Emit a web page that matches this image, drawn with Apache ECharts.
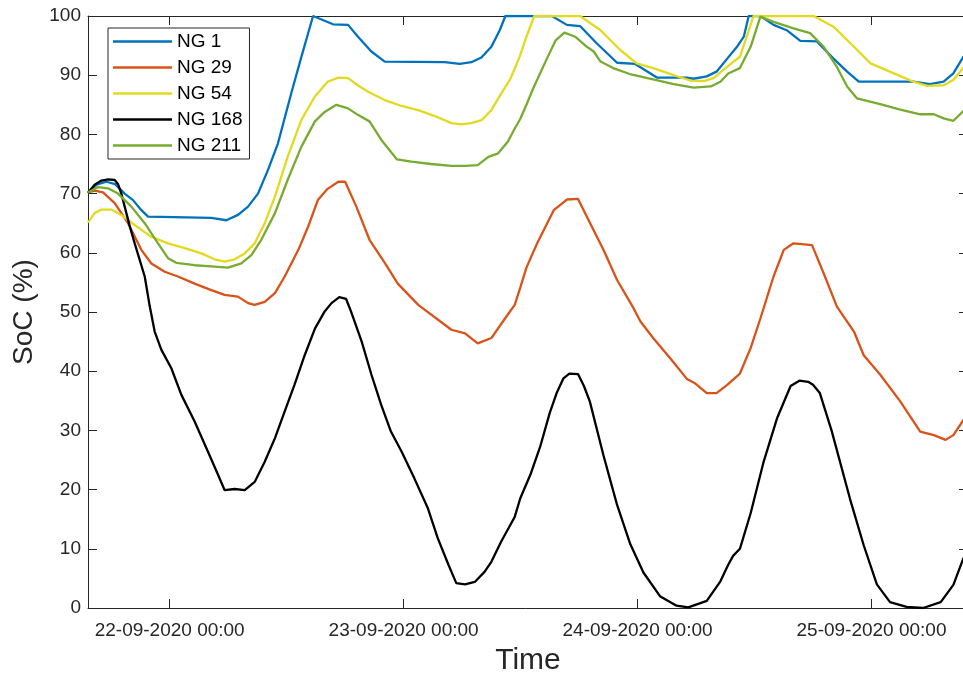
<!DOCTYPE html>
<html>
<head>
<meta charset="utf-8">
<script src="https://cdn.jsdelivr.net/npm/echarts@6/dist/echarts.min.js"></script>
<style>
html,body{margin:0;padding:0;background:#fff;}
#chart{width:963px;height:680px;}
</style>
</head>
<body>
<div id="chart"></div>
<script>
// Time is in hours relative to 22-09-2020 00:00
const tickHours = [0, 24, 48, 72];
const tickLabels = ['22-09-2020 00:00', '23-09-2020 00:00', '24-09-2020 00:00', '25-09-2020 00:00'];
const seriesNames = ['NG 1', 'NG 29', 'NG 54', 'NG 168', 'NG 211'];

const ng1Hours = [-8.38,-7.5,-6.5,-5.6,-4.62,-3.76,-2.9,-2.22,4.27,5.81,7.01,8.04,9.06,10.09,11.11,12.48,13.51,14.71,16.76,18.3,19.32,20.69,22.06,28.21,29.75,30.95,31.98,33.0,33.86,34.44,39.2,40.75,42.1,43.8,45.9,47.76,49.98,53.06,53.75,55.1,56.1,57.2,58.2,58.9,59.4,60.6,61.95,63.3,64.7,66.4,68.1,69.5,70.7,76.3,78.0,79.4,80.4,81.45];
const ng1Soc   = [70.2,71.5,72.0,71.6,70.0,68.9,67.2,66.1,65.9,65.5,66.4,67.8,70.0,74.0,78.5,87.0,93.1,100,98.6,98.5,96.5,94.0,92.3,92.2,91.9,92.2,93.0,94.8,97.6,100,100,98.5,98.3,95.4,92.1,91.9,89.6,89.6,89.4,89.8,90.6,92.8,94.8,96.5,100,100,98.5,97.6,95.8,95.7,92.8,90.6,88.9,88.9,88.5,88.9,90.3,93.2];

const ng29Hours = [-8.38,-7.7,-6.84,-5.64,-4.27,-2.91,-1.88,-0.51,0.85,2.56,4.27,5.64,7.0,8.04,8.7,9.75,10.8,11.8,13.2,14.2,15.2,16.2,17.3,18.0,19.15,20.5,22.1,23.4,25.5,28.9,30.3,31.6,33.0,34.4,35.4,36.0,36.6,37.7,39.4,40.75,41.9,42.8,44.5,45.9,47.6,48.3,49.6,51.35,53.06,53.9,55.1,56.1,57.2,58.5,59.6,60.6,61.95,63.0,64.0,65.9,67.1,68.45,70.2,71.2,72.9,74.95,77.0,78.4,79.6,80.4,81.45];
const ng29Soc   = [70.2,70.5,70.2,68.4,65.0,60.5,58.2,56.8,56.0,54.8,53.7,52.9,52.6,51.5,51.2,51.7,53.2,56.0,60.5,64.4,68.9,70.8,72.0,72.0,67.8,62.2,58.2,54.8,51.2,47.0,46.4,44.7,45.6,48.9,51.2,54.3,57.5,61.6,67.2,69.0,69.1,66.1,60.5,55.4,50.6,48.4,45.6,42.2,38.7,37.95,36.3,36.3,37.7,39.6,43.9,48.9,56.0,60.5,61.6,61.3,56.5,50.9,46.7,42.7,39.4,34.9,29.8,29.2,28.4,29.2,31.8];

const ng54Hours = [-8.38,-7.7,-7.0,-6.0,-4.96,-3.59,-1.88,-0.17,1.54,3.25,4.6,5.64,6.67,7.7,8.72,9.75,10.8,12.1,13.5,14.9,16.2,17.3,18.3,19.3,20.35,22.06,23.8,25.5,27.2,28.9,29.9,30.95,32.0,33.0,34.0,34.9,35.9,36.6,37.4,42.1,44.2,46.2,47.9,49.6,51.7,53.4,54.8,55.8,56.8,57.85,58.5,59.2,59.9,66.06,68.1,70.2,71.9,74.3,76.3,77.7,79.4,80.4,81.45];
const ng54Soc   = [65.1,66.7,67.3,67.3,66.4,64.7,62.7,61.6,60.8,59.9,58.9,58.5,58.9,59.9,61.6,65.0,69.5,76.2,82.4,86.4,88.9,89.6,89.5,88.3,87.2,85.8,84.8,84.1,83.1,81.9,81.7,81.9,82.4,84.1,86.9,89.2,93.1,96.5,100,100,97.6,94.3,92.0,91.2,90.0,89.1,89.0,89.5,90.9,92.3,93.1,96.5,100,100,98.2,94.8,92.0,90.3,88.9,88.2,88.3,89.2,91.3];

const ng168Hours = [-8.38,-7.7,-7.0,-6.3,-5.64,-5.3,-4.96,-4.1,-3.59,-2.56,-2.05,-1.54,-0.85,0.17,1.2,2.56,3.93,4.96,5.64,6.67,7.7,8.72,9.75,10.8,11.8,12.8,13.85,14.9,15.9,16.6,17.4,18.1,18.6,19.7,20.7,21.7,22.7,23.8,25.1,26.5,27.5,28.6,29.4,30.3,31.3,32.3,33.0,34.0,34.9,35.4,35.96,37.0,38.0,39.0,39.7,40.4,41.0,41.9,42.5,43.1,44.5,45.1,45.9,47.25,48.6,50.3,52.0,53.2,55.1,56.5,57.3,57.8,58.5,59.6,60.9,62.3,63.7,64.6,65.5,66.0,66.7,67.9,69.8,71.2,72.55,73.9,75.6,77.3,79.1,80.4,81.45];
const ng168Soc   = [70.1,71.5,72.2,72.4,72.3,71.6,70.0,64.5,61.6,56.0,51.0,46.7,43.6,40.5,36.0,31.5,26.4,22.5,19.9,20.1,19.9,21.3,24.7,28.7,33.2,37.7,42.7,47.2,50.1,51.5,52.5,52.2,50.1,45.0,39.4,34.3,29.8,26.4,21.9,16.8,11.8,7.3,4.2,4.0,4.4,6.1,7.8,11.2,13.9,15.4,18.5,22.5,27.2,33.0,36.3,38.8,39.6,39.5,37.5,34.9,25.8,22.2,17.4,10.8,6.0,2.0,0.4,0.1,1.2,4.5,7.3,8.8,10.0,16.0,24.5,32.0,37.5,38.4,38.2,37.7,36.3,30.0,18.4,10.6,4.0,1.0,0.2,0.0,1.0,3.9,8.5];

const ng211Hours = [-8.38,-7.35,-6.33,-5.3,-3.93,-2.56,-1.2,-0.17,0.68,2.56,4.27,5.98,7.35,8.38,9.4,10.8,12.1,13.5,14.9,15.9,17.1,18.3,19.3,20.5,21.7,23.3,24.8,26.8,28.9,30.3,31.6,32.7,33.7,34.7,35.4,35.96,36.6,37.3,38.7,39.6,40.5,41.6,42.8,43.5,44.2,45.5,47.2,49.6,51.7,53.75,55.5,56.5,57.3,58.5,59.6,60.6,61.95,64.0,65.7,67.1,68.45,69.5,70.5,72.9,74.95,77.0,78.4,79.4,80.4,81.45];
const ng211Soc   = [70.2,71.1,70.9,70.0,67.8,65.0,61.6,59.1,58.3,57.9,57.7,57.5,58.2,59.6,62.2,66.7,72.3,77.9,82.2,83.8,85.0,84.4,83.3,82.2,79.1,75.8,75.4,75.0,74.7,74.7,74.8,76.2,76.8,78.8,81.0,82.6,85.0,87.8,92.8,95.9,97.2,96.5,94.8,94.0,92.3,91.2,90.2,89.3,88.5,87.9,88.1,88.9,90.3,91.2,94.8,99.9,99.0,97.9,97.1,94.8,91.4,88.1,86.1,85.1,84.2,83.4,83.4,82.7,82.3,84.0];

const seriesHours = [ng1Hours, ng29Hours, ng54Hours, ng168Hours, ng211Hours];
const seriesSoc = [ng1Soc, ng29Soc, ng54Soc, ng168Soc, ng211Soc];
const colors = ['#0072BD', '#D95319', '#E3DA20', '#000000', '#77AC30'];

const X_MIN = -8.38, X_MAX = 81.9;
const FONT = "'Liberation Sans', Arial, Helvetica, sans-serif";
const AX = '#262626';

const chart = echarts.init(document.getElementById('chart'), null, {renderer: 'canvas'});

const series = seriesNames.map((name, i) => ({
  name: name,
  type: 'line',
  xAxisIndex: 0,
  yAxisIndex: 0,
  symbol: 'none',
  showSymbol: false,
  smooth: false,
  clip: true,
  lineStyle: {width: 2.3, color: colors[i]},
  itemStyle: {color: colors[i]},
  data: seriesHours[i].map((h, k) => [h, seriesSoc[i][k]])
}));

const option = {
  animation: false,
  backgroundColor: '#ffffff',
  textStyle: {fontFamily: FONT},
  grid: {left: 88, top: 16, width: 880, height: 592, containLabel: false, outerBoundsMode: 'none'},
  legend: {
    orient: 'vertical',
    left: 108,
    top: 28,
    data: seriesNames.map(n => ({name: n, icon: 'rect'})),
    itemWidth: 59,
    itemHeight: 2.5,
    itemGap: 7,
    padding: [4, 7, 4, 5],
    borderColor: AX,
    borderWidth: 1,
    backgroundColor: '#ffffff',
    textStyle: {fontFamily: FONT, fontSize: 19, lineHeight: 19, color: '#000'}
  },
  xAxis: [
    {
      type: 'value', position: 'bottom', min: X_MIN, max: X_MAX,
      name: 'Time', nameLocation: 'middle', nameGap: 38,
      nameTextStyle: {fontFamily: FONT, fontSize: 30, color: AX},
      axisLine: {show: true, onZero: false, lineStyle: {color: AX, width: 1}},
      axisTick: {show: true, inside: true, length: 9, customValues: tickHours, lineStyle: {color: AX}},
      axisLabel: {
        show: true, margin: 13, fontFamily: FONT, fontSize: 19, color: AX,
        customValues: tickHours,
        formatter: v => { const i = tickHours.indexOf(Math.round(v)); return i >= 0 ? tickLabels[i] : ''; }
      },
      splitLine: {show: false}
    },
    {
      type: 'value', position: 'top', min: X_MIN, max: X_MAX,
      axisLine: {show: true, onZero: false, lineStyle: {color: AX, width: 1}},
      axisTick: {show: true, inside: true, length: 9, customValues: tickHours, lineStyle: {color: AX}},
      axisLabel: {show: false},
      splitLine: {show: false}
    }
  ],
  yAxis: [
    {
      type: 'value', position: 'left', min: 0, max: 100, interval: 10,
      name: 'SoC (%)', nameLocation: 'middle', nameGap: 46,
      nameTextStyle: {fontFamily: FONT, fontSize: 28, color: AX},
      axisLine: {show: true, onZero: false, lineStyle: {color: AX, width: 1}},
      axisTick: {show: true, inside: true, length: 9, lineStyle: {color: AX}},
      axisLabel: {show: true, margin: 7, fontFamily: FONT, fontSize: 19, color: AX},
      splitLine: {show: false}
    },
    {
      type: 'value', position: 'right', min: 0, max: 100, interval: 10,
      axisLine: {show: true, onZero: false, lineStyle: {color: AX, width: 1}},
      axisTick: {show: true, inside: true, length: 9, lineStyle: {color: AX}},
      axisLabel: {show: false},
      splitLine: {show: false}
    }
  ],
  series: series
};

chart.setOption(option);
</script>
</body>
</html>
